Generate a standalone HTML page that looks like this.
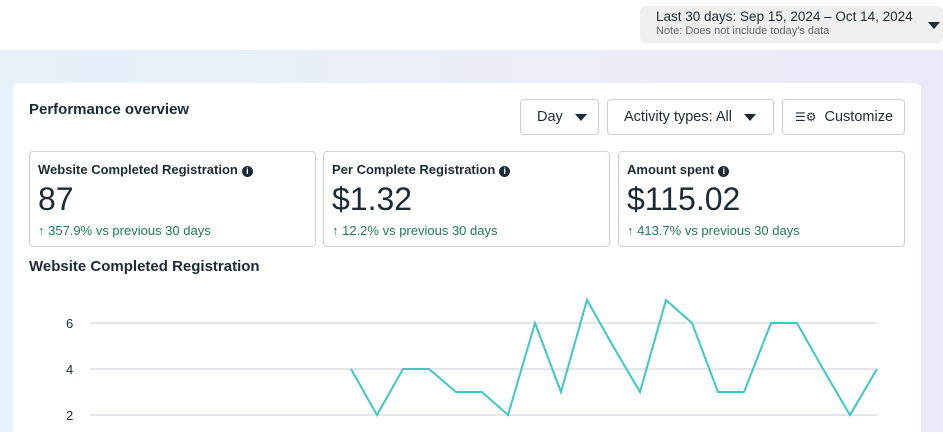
<!DOCTYPE html>
<html><head><style>
*{margin:0;padding:0;box-sizing:border-box}
body{width:943px;height:432px;overflow:hidden;font-family:"Liberation Sans",sans-serif;color:#1c2b33;position:relative;background:#fff}
.bg{position:absolute;left:0;top:50px;width:943px;height:382px;background:linear-gradient(90deg,#e6f1fa,#eceef8 60%,#ece8f8)}
.date{position:absolute;left:640px;top:6px;width:303px;height:37px;background:#efefef;border-radius:6px;padding:3px 0 0 16px}
.date .a{font-size:13.5px;color:#1c2b33}
.date .b{font-size:11px;color:#65676b;margin-top:1px}
.date .tri{position:absolute;right:3px;top:16px;width:0;height:0;border-left:6px solid transparent;border-right:6px solid transparent;border-top:7px solid #1c2b33}
.card{position:absolute;left:13px;top:83px;width:908px;height:360px;background:#fff;border-radius:6px}
.h{position:absolute;font-weight:bold;font-size:15px}
.btn{position:absolute;top:99px;height:36px;border:1px solid #ccd0d5;border-radius:4px;background:#fff;font-size:14.5px;display:flex;align-items:center;padding-left:16px}
.t{display:inline-block;width:0;height:0;border-left:6px solid transparent;border-right:6px solid transparent;border-top:7px solid #1c2b33;margin-left:12px}
.m{position:absolute;top:151px;height:96px;border:1px solid #ccd0d5;border-radius:4px;padding:10px 0 0 8px}
.m .l{font-weight:bold;font-size:13px}
.m .l i{display:inline-block;width:11px;height:11px;border-radius:50%;background:#1c2b33;color:#fff;font-size:9px;font-style:normal;text-align:center;line-height:11px;margin-left:4px;vertical-align:0}
.m .v{font-size:32px;margin-top:4px;line-height:36px}
.m .p{font-size:13px;color:#1f7a5a;margin-top:6px}
</style></head><body>
<div class="date"><div class="a">Last 30 days: Sep 15, 2024 – Oct 14, 2024</div><div class="b">Note: Does not include today's data</div><div class="tri"></div></div>
<div class="bg"></div>
<div class="card"></div>
<div class="h" style="left:29px;top:101px">Performance overview</div>
<div class="btn" style="left:520px;width:79px">Day<span class="t"></span></div>
<div class="btn" style="left:607px;width:167px">Activity types: All<span class="t"></span></div>
<div class="btn" style="left:782px;width:123px;padding-left:12px"><span style="font-size:12px;margin-right:8px">☰⚙</span>Customize</div>
<div class="m" style="left:29px;width:287px"><div class="l">Website Completed Registration<i>i</i></div><div class="v">87</div><div class="p">↑ 357.9% vs previous 30 days</div></div>
<div class="m" style="left:323px;width:287px"><div class="l">Per Complete Registration<i>i</i></div><div class="v">$1.32</div><div class="p">↑ 12.2% vs previous 30 days</div></div>
<div class="m" style="left:618px;width:287px"><div class="l">Amount spent<i>i</i></div><div class="v">$115.02</div><div class="p">↑ 413.7% vs previous 30 days</div></div>
<div class="h" style="left:29px;top:258px">Website Completed Registration</div>
<svg style="position:absolute;left:0;top:0" width="943" height="432">
<g stroke="#e4e6eb" stroke-width="2"><line x1="90" x2="877" y1="323" y2="323"/><line x1="90" x2="877" y1="369" y2="369"/><line x1="90" x2="877" y1="415" y2="415"/></g>
<g font-family="Liberation Sans" font-size="13" fill="#1c2b33"><text x="66" y="328">6</text><text x="66" y="374">4</text><text x="66" y="420">2</text></g>
<polyline fill="none" stroke="#3cc8c4" stroke-width="2" points="351,369 377,415 403,369 429,369 456,392 482,392 508,415 535,323 561,392 587,300 613,346 640,392 666,300 692,323 718,392 744,392 771,323 797,323 823,369 850,415 877,369"/>
</svg>
</body></html>
